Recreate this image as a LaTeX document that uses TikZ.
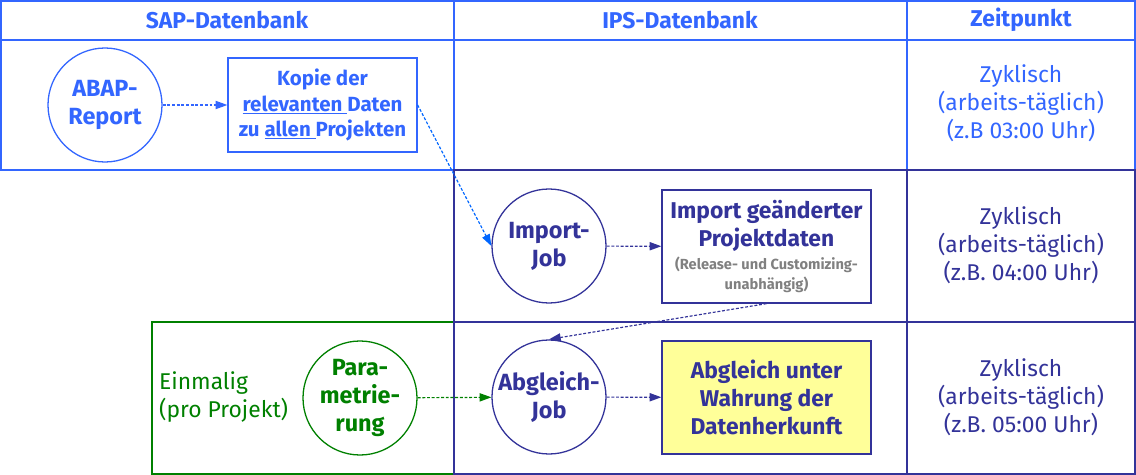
\documentclass[tikz,border=0pt]{standalone}
\usepackage{fontspec}
\setmainfont{Fira Sans}
\usetikzlibrary{arrows.meta}
\definecolor{sapblue}{RGB}{51,102,255}
\definecolor{linkblue}{RGB}{0,102,255}
\definecolor{ipsblue}{RGB}{51,51,153}
\definecolor{setgreen}{RGB}{0,128,0}
\definecolor{notegray}{RGB}{128,128,128}
\definecolor{resultyellow}{RGB}{255,255,153}
\newcommand{\notefont}{\color{notegray}\fontsize{12.5}{14.5}\selectfont}

\tikzset{
  cell/.style={line width=1.3pt},
  job/.style={circle,draw=#1,text=#1,line width=1.1pt,minimum size=3.42cm,inner sep=0pt,
    align=center,font=\fontsize{20}{24}\selectfont\bfseries},
  databox/.style={draw=#1,text=#1,line width=1.1pt,inner sep=0pt,align=center},
  headtext/.style={text=sapblue,font=\fontsize{19.5}{24}\selectfont\bfseries},
  timetext/.style={text=#1,align=center,font=\fontsize{19.5}{24}\selectfont},
  flow/.style={line width=1pt,dash pattern=on 2.5pt off 1.5pt,-{Triangle[length=10pt,width=7pt]}}
}

\begin{document}
\begin{tikzpicture}[x=0.03cm,y=-0.03cm]
\useasboundingbox (0,0) rectangle (1136,475);
% Tabelle
\draw[cell,sapblue] (1,1) rectangle (454,170) (454,1) rectangle (907,170) (907,1) rectangle (1135,170);
\draw[cell,sapblue] (1,40) -- (1135,40);
\draw[cell,setgreen] (152,322) rectangle (454,474);
\draw[cell,ipsblue] (454,170) rectangle (1135,474) (907,170) -- (907,474) (454,322) -- (1135,322);
\node[headtext] (hsap) at (227,20) {SAP-Datenbank};
\node[headtext] (hips) at (680,20) {IPS-Datenbank};
\node[headtext] (hzeit) at (1021,20) {Zeitpunkt};

% Zeile 1
\node[job=sapblue] (abap) at (105,105) {ABAP-\\Report};
\node[databox=sapblue,minimum width=5.67cm,minimum height=2.82cm,
  font=\fontsize{17.5}{21.8}\selectfont\bfseries] (kopie) at (322.5,105)
  {Kopie der\\\underline{relevanten\ }Daten\\zu \underline{allen\ }Projekten};
\node[timetext=sapblue] (zeit1) at (1021,103) {Zyklisch\\(arbeits-täglich)\\(z.B 03:00 Uhr)};

% Zeile 2
\node[job=ipsblue] (importjob) at (549,246) {Import-\\Job};
\node[databox=ipsblue,minimum width=6.27cm,minimum height=3.39cm,
  font=\fontsize{19.5}{24}\selectfont\bfseries] (import) at (766.5,246.5)
  {Import geänderter\\Projektdaten\\[-5pt]
   \notefont (Release- und Customizing-\\[-7pt]\notefont unabhängig)};
\node[timetext=ipsblue] (zeit2) at (1021,245) {Zyklisch\\(arbeits-täglich)\\(z.B. 04:00 Uhr)};

% Zeile 3
\node[text=setgreen,align=left,anchor=west,font=\fontsize{19.5}{24}\selectfont] (einmalig) at (155,397)
  {Einmalig\\(pro Projekt)};
\node[job=setgreen] (param) at (360,398) {Para-\\metrie-\\rung};
\node[job=ipsblue] (abgleichjob) at (549,397) {Abgleich-\\Job};
\node[databox=ipsblue,fill=resultyellow,minimum width=6.27cm,minimum height=3.39cm,
  font=\fontsize{19.5}{24}\selectfont\bfseries] (abgleich) at (766.5,397.5)
  {Abgleich unter\\Wahrung der\\Datenherkunft};
\node[timetext=ipsblue] (zeit3) at (1021,397) {Zyklisch\\(arbeits-täglich)\\(z.B. 05:00 Uhr)};

% Pfeile
\draw[flow,sapblue] (abap) -- (kopie);
\draw[flow,linkblue] (kopie.east) -- (importjob.west);
\draw[flow,ipsblue] (importjob) -- (import);
\draw[flow,ipsblue] (import.south) -- (abgleichjob.north);
\draw[flow,setgreen] (param) -- (abgleichjob);
\draw[flow,ipsblue] (abgleichjob) -- (abgleich);
\end{tikzpicture}
\end{document}
